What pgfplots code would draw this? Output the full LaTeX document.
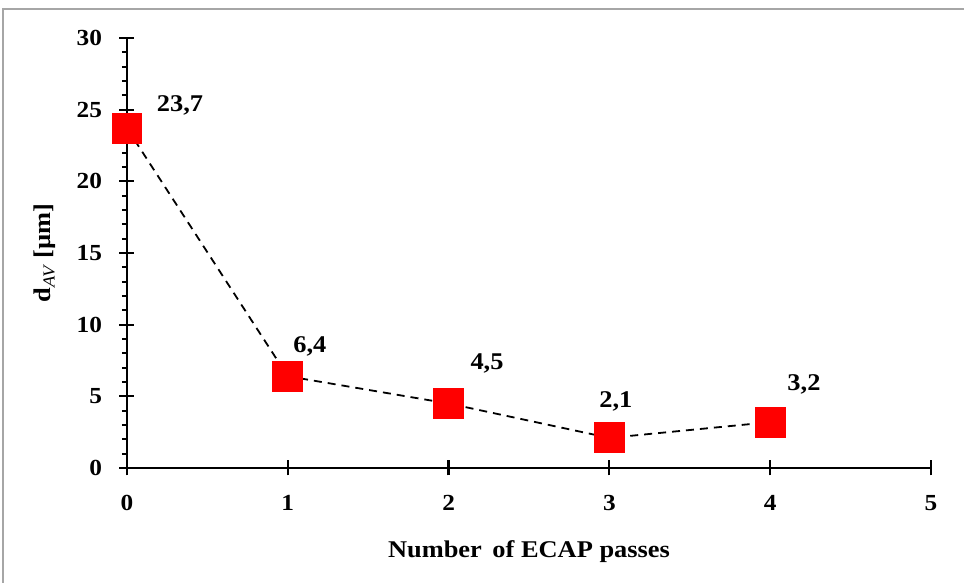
\documentclass[border=0pt]{standalone}
\usepackage{pgfplots}
\pgfplotsset{compat=1.18}
\usepackage{fontspec}
\setmainfont{Liberation Serif}[FakeStretch=1.1]
\begin{document}
\begin{tikzpicture}
\useasboundingbox (-127pt,-115pt) rectangle (837pt,468pt);
\draw[gray!70, line width=1.5pt] (-124pt,-130pt) rectangle (850pt,459pt);
\begin{axis}[
  at={(0pt,0pt)}, anchor=south west,
  scale only axis, width=804pt, height=430pt,
  xmin=0, xmax=5, ymin=0, ymax=30,
  axis lines=left,
  axis line style={-, line width=2.2pt},
  xtick={0,1,2,3,4,5}, ytick={0,5,10,15,20,25,30},
  minor y tick num=4,
  tick align=center,
  major tick length=15pt,
  minor tick length=5pt,
  every tick/.style={line width=2.2pt, black},
  minor tick style={line width=1.8pt, xshift=-2.5pt},
  /pgf/number format/assume math mode=true,
  ticklabel style={font=\fontsize{23}{23}\selectfont\bfseries},
  xticklabel style={yshift=-16pt},
  yticklabel style={xshift=-14pt},
  xlabel={Number\, of ECAP passes},
  ylabel={d\textsubscript{\normalfont\itshape AV} [µm]},
  label style={font=\fontsize{24}{24}\selectfont\bfseries},
  xlabel style={at={(axis description cs:0.5,0)}, anchor=center, yshift=-84pt},
  ylabel style={at={(axis description cs:0,0.5)}, anchor=center, xshift=0pt, yshift=82pt},
  clip=false,
]
\addplot[black, dashed, line width=1.8pt, dash pattern=on 8pt off 6pt,
  mark=square*, mark size=14.5pt,
  mark options={solid, fill=red, draw=red}]
  coordinates {(0,23.7) (1,6.4) (2,4.5) (3,2.1) (4,3.2)};
\addplot[draw=none, mark=none,
  nodes near coords, point meta=explicit symbolic,
  every node near coord/.style={anchor=center, font=\fontsize{24}{24}\selectfont\bfseries, text=black}]
  coordinates {(0.33,25.33)[23,7] (1.137,8.51)[6,4] (2.239,7.26)[4,5] (3.04,4.68)[2,1] (4.21,5.86)[3,2]};
\end{axis}
\end{tikzpicture}
\end{document}
